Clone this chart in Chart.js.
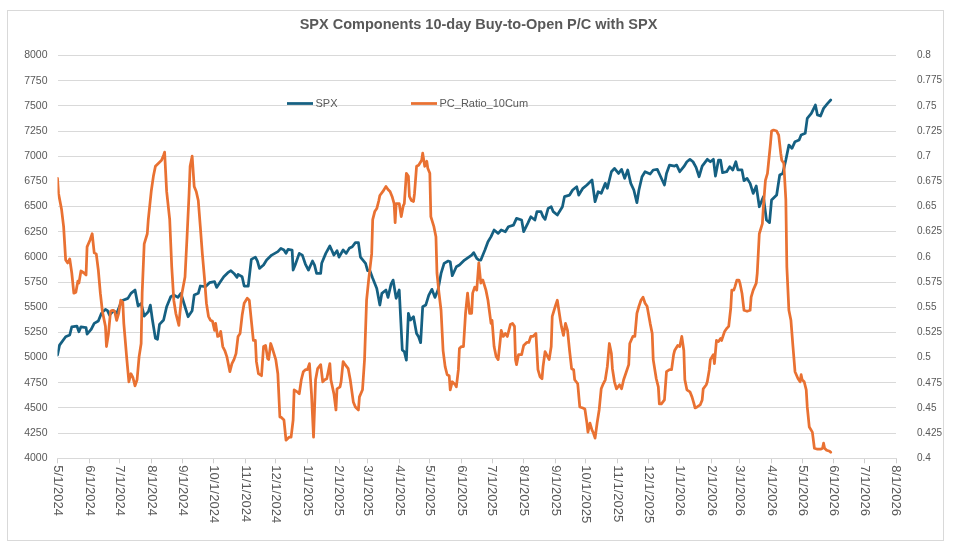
<!DOCTYPE html>
<html>
<head>
<meta charset="utf-8">
<script src="https://cdn.jsdelivr.net/npm/chart.js@4.4.1/dist/chart.umd.min.js"></script>
<style>
html,body{margin:0;padding:0;background:#ffffff;}
#wrap{width:957px;height:550px;position:relative;}
</style>
</head>
<body>
<div id="wrap"><canvas id="c" width="957" height="550"></canvas></div>
<script>
const titleText = 'SPX Components 10-day Buy-to-Open P/C with SPX';
const seriesNames = ['SPX', 'PC_Ratio_10Cum'];
const xTickLabels = ['5/1/2024','6/1/2024','7/1/2024','8/1/2024','9/1/2024','10/1/2024','11/1/2024','12/1/2024',
  '1/1/2025','2/1/2025','3/1/2025','4/1/2025','5/1/2025','6/1/2025','7/1/2025','8/1/2025','9/1/2025','10/1/2025',
  '11/1/2025','12/1/2025','1/1/2026','2/1/2026','3/1/2026','4/1/2026','5/1/2026','6/1/2026','7/1/2026','8/1/2026'];
const leftTicks = [4000,4250,4500,4750,5000,5250,5500,5750,6000,6250,6500,6750,7000,7250,7500,7750,8000];
const rightTicks = ['0.4','0.425','0.45','0.475','0.5','0.525','0.55','0.575','0.6','0.625','0.65','0.675','0.7','0.725','0.75','0.775','0.8'];

const spxDates = ['2024-05-01','2024-05-03','2024-05-09','2024-05-13','2024-05-15','2024-05-20','2024-05-22','2024-05-24','2024-05-29','2024-05-30',
'2024-06-03','2024-06-06','2024-06-10','2024-06-13','2024-06-17','2024-06-19','2024-06-21','2024-06-25','2024-06-28',
'2024-07-03','2024-07-09','2024-07-12','2024-07-16','2024-07-19','2024-07-22','2024-07-25','2024-07-29','2024-07-31',
'2024-08-02','2024-08-05','2024-08-07','2024-08-09','2024-08-13','2024-08-16','2024-08-20','2024-08-23','2024-08-27','2024-08-30',
'2024-09-03','2024-09-06','2024-09-10','2024-09-12','2024-09-16','2024-09-18','2024-09-23','2024-09-27',
'2024-10-02','2024-10-04','2024-10-07','2024-10-11','2024-10-15','2024-10-18','2024-10-21','2024-10-24','2024-10-25','2024-10-29','2024-10-31',
'2024-11-04','2024-11-07','2024-11-11','2024-11-13','2024-11-15','2024-11-19','2024-11-22','2024-11-27',
'2024-12-03','2024-12-06','2024-12-09','2024-12-11','2024-12-13','2024-12-17','2024-12-18','2024-12-20','2024-12-24','2024-12-27','2024-12-30',
'2025-01-02','2025-01-06','2025-01-08','2025-01-10','2025-01-14','2025-01-15','2025-01-19','2025-01-23','2025-01-27','2025-01-30',
'2025-02-01','2025-02-05','2025-02-08','2025-02-11','2025-02-14','2025-02-17','2025-02-20','2025-02-22','2025-02-27',
'2025-03-01','2025-03-03','2025-03-06','2025-03-10','2025-03-13','2025-03-15','2025-03-19','2025-03-21','2025-03-24','2025-03-26','2025-03-29',
'2025-04-01','2025-04-04','2025-04-06','2025-04-08','2025-04-10','2025-04-12','2025-04-15','2025-04-18','2025-04-20','2025-04-22','2025-04-24','2025-04-27','2025-04-30',
'2025-05-03','2025-05-06','2025-05-09','2025-05-12','2025-05-15','2025-05-19','2025-05-21','2025-05-23','2025-05-27','2025-05-30',
'2025-06-04','2025-06-11','2025-06-13','2025-06-16','2025-06-18','2025-06-20','2025-06-24','2025-06-27','2025-06-30',
'2025-07-03','2025-07-07','2025-07-10','2025-07-14','2025-07-17','2025-07-22','2025-07-25','2025-07-30',
'2025-08-01','2025-08-05','2025-08-08','2025-08-12','2025-08-14','2025-08-18','2025-08-20','2025-08-22','2025-08-25','2025-08-28','2025-08-30',
'2025-09-03','2025-09-08','2025-09-10','2025-09-15','2025-09-18','2025-09-22','2025-09-24','2025-09-28',
'2025-10-02','2025-10-07','2025-10-10','2025-10-13','2025-10-16','2025-10-20','2025-10-22','2025-10-26','2025-10-29',
'2025-11-02','2025-11-05','2025-11-08','2025-11-11','2025-11-14','2025-11-17','2025-11-20','2025-11-22','2025-11-25','2025-11-28',
'2025-12-03','2025-12-06','2025-12-10','2025-12-13','2025-12-17','2025-12-19','2025-12-22','2025-12-27','2025-12-29',
'2026-01-01','2026-01-05','2026-01-08','2026-01-11','2026-01-14','2026-01-17','2026-01-20','2026-01-23','2026-01-28','2026-01-31',
'2026-02-03','2026-02-05','2026-02-08','2026-02-10','2026-02-12','2026-02-16','2026-02-19','2026-02-22','2026-02-25','2026-02-27',
'2026-03-03','2026-03-05','2026-03-08','2026-03-11','2026-03-14','2026-03-17','2026-03-20','2026-03-24','2026-03-27','2026-03-30',
'2026-04-01','2026-04-06','2026-04-09','2026-04-12','2026-04-15','2026-04-18','2026-04-21','2026-04-24','2026-04-28','2026-04-30',
'2026-05-04','2026-05-06','2026-05-10','2026-05-14','2026-05-16','2026-05-19','2026-05-22','2026-05-26','2026-05-29'];
const spxValues = [5025,5124,5207,5224,5306,5313,5257,5306,5297,5234,
5280,5340,5363,5439,5479,5466,5422,5466,5439,
5565,5588,5638,5671,5512,5538,5412,5455,5522,
5379,5191,5181,5330,5373,5505,5605,5621,5598,5638,
5505,5406,5466,5621,5638,5711,5704,5744,
5754,5697,5744,5803,5843,5863,5836,5797,5826,5803,5711,
5711,5975,5998,5959,5886,5919,5969,6018,
6052,6085,6068,6035,6075,6068,5869,5919,6035,6018,5929,
5869,5959,5919,5836,5836,5936,6035,6108,6018,6062,
5998,6068,6035,6085,6101,6141,6141,5998,5936,
5863,5869,5787,5687,5522,5638,5671,5598,5730,5770,5588,
5671,5075,5058,4975,5439,5373,5406,5240,5207,5148,5505,5522,5621,
5678,5598,5671,5836,5936,5959,5952,5813,5902,5919,
5969,6018,6042,5985,5969,5969,6068,6151,6201,
6267,6234,6267,6250,6300,6316,6383,6366,
6250,6333,6399,6366,6449,6449,6399,6373,6482,6498,6449,
6416,6498,6598,6614,6664,6697,6614,6681,
6714,6763,6548,6647,6631,6730,6681,6846,6879,
6829,6869,6780,6863,6730,6664,6538,6664,6796,6846,
6823,6863,6869,6803,6714,6829,6912,6902,6912,
6846,6896,6945,6969,6945,6889,6796,6902,6969,6945,
6969,6803,6962,6962,6836,6846,6896,6863,6945,6863,
6863,6757,6780,6730,6631,6704,6498,6598,6366,6340,
6565,6614,6813,6829,6962,7111,7078,7144,7161,7210,
7227,7376,7425,7508,7409,7399,7475,7525,7558];

const pcDates = ['2024-05-01','2024-05-02','2024-05-05','2024-05-07','2024-05-09','2024-05-11','2024-05-13','2024-05-15','2024-05-17','2024-05-19','2024-05-21','2024-05-22','2024-05-24','2024-05-27','2024-05-29','2024-05-30',
'2024-06-02','2024-06-04','2024-06-06','2024-06-08','2024-06-10','2024-06-12','2024-06-14','2024-06-17','2024-06-18','2024-06-20','2024-06-22','2024-06-24','2024-06-26','2024-06-28','2024-06-30',
'2024-07-02','2024-07-04','2024-07-05','2024-07-08','2024-07-10','2024-07-12','2024-07-14','2024-07-16','2024-07-18','2024-07-20','2024-07-22','2024-07-23','2024-07-25','2024-07-28','2024-07-29',
'2024-08-01','2024-08-03','2024-08-05','2024-08-08','2024-08-10','2024-08-11','2024-08-13','2024-08-14','2024-08-16','2024-08-19','2024-08-21','2024-08-23','2024-08-25','2024-08-28','2024-08-29','2024-08-31',
'2024-09-03','2024-09-05','2024-09-07','2024-09-08','2024-09-10','2024-09-12','2024-09-14','2024-09-16','2024-09-18','2024-09-20','2024-09-22','2024-09-24','2024-09-26','2024-09-28','2024-09-30',
'2024-10-02','2024-10-03','2024-10-05','2024-10-07','2024-10-08','2024-10-10','2024-10-12','2024-10-14','2024-10-17','2024-10-19','2024-10-21','2024-10-23','2024-10-25','2024-10-27','2024-10-29','2024-10-31',
'2024-11-03','2024-11-05','2024-11-07','2024-11-09','2024-11-11','2024-11-12','2024-11-14','2024-11-17','2024-11-19','2024-11-21','2024-11-23','2024-11-24','2024-11-26','2024-11-28',
'2024-12-01','2024-12-03','2024-12-05','2024-12-06','2024-12-09','2024-12-11','2024-12-14','2024-12-16','2024-12-18','2024-12-19','2024-12-22','2024-12-24','2024-12-26','2024-12-28','2024-12-30',
'2025-01-01','2025-01-03','2025-01-05','2025-01-07','2025-01-09','2025-01-11','2025-01-14','2025-01-16','2025-01-18','2025-01-20','2025-01-23','2025-01-24','2025-01-27','2025-01-29','2025-01-30',
'2025-02-02','2025-02-03','2025-02-05','2025-02-07','2025-02-10','2025-02-12','2025-02-15','2025-02-17','2025-02-20','2025-02-21','2025-02-24','2025-02-26','2025-02-28',
'2025-03-02','2025-03-05','2025-03-06','2025-03-08','2025-03-10','2025-03-12','2025-03-13','2025-03-16','2025-03-19','2025-03-21','2025-03-23','2025-03-25','2025-03-27','2025-03-28','2025-03-29',
'2025-04-01','2025-04-03','2025-04-05','2025-04-06','2025-04-08','2025-04-10','2025-04-11','2025-04-13','2025-04-15','2025-04-16','2025-04-18','2025-04-20','2025-04-23','2025-04-24','2025-04-26','2025-04-28','2025-04-29',
'2025-05-01','2025-05-02','2025-05-05','2025-05-07','2025-05-08','2025-05-10','2025-05-12','2025-05-14','2025-05-16','2025-05-18','2025-05-20','2025-05-21','2025-05-23','2025-05-26','2025-05-27','2025-05-29','2025-05-30',
'2025-06-01','2025-06-03','2025-06-05','2025-06-07','2025-06-09','2025-06-11','2025-06-12','2025-06-14','2025-06-16','2025-06-18','2025-06-20','2025-06-22','2025-06-25','2025-06-27','2025-06-30',
'2025-07-01','2025-07-03','2025-07-05','2025-07-07','2025-07-09','2025-07-10','2025-07-12','2025-07-14','2025-07-16','2025-07-19','2025-07-21','2025-07-23','2025-07-24','2025-07-25','2025-07-27','2025-07-30',
'2025-08-01','2025-08-04','2025-08-06','2025-08-08','2025-08-10','2025-08-13','2025-08-15','2025-08-17','2025-08-19','2025-08-20','2025-08-22','2025-08-23','2025-08-26','2025-08-28','2025-08-29',
'2025-09-01','2025-09-03','2025-09-06','2025-09-07','2025-09-09','2025-09-11','2025-09-13','2025-09-15','2025-09-17','2025-09-19','2025-09-20','2025-09-23','2025-09-25','2025-09-28','2025-09-30',
'2025-10-02','2025-10-03','2025-10-05','2025-10-07','2025-10-08','2025-10-10','2025-10-12','2025-10-14','2025-10-16','2025-10-18','2025-10-20','2025-10-22','2025-10-24','2025-10-26','2025-10-27','2025-10-29','2025-10-31',
'2025-11-03','2025-11-05','2025-11-07','2025-11-09','2025-11-12','2025-11-13','2025-11-16','2025-11-18','2025-11-20','2025-11-22','2025-11-24','2025-11-26','2025-11-28','2025-11-30',
'2025-12-03','2025-12-05','2025-12-06','2025-12-09','2025-12-11','2025-12-12','2025-12-14','2025-12-17','2025-12-19','2025-12-22','2025-12-24','2025-12-26','2025-12-27','2025-12-30',
'2026-01-01','2026-01-03','2026-01-05','2026-01-06','2026-01-08','2026-01-11','2026-01-13','2026-01-15','2026-01-16','2026-01-18','2026-01-21','2026-01-23','2026-01-24','2026-01-27','2026-01-28','2026-01-30','2026-01-31',
'2026-02-03','2026-02-04','2026-02-06','2026-02-08','2026-02-10','2026-02-11','2026-02-14','2026-02-16','2026-02-18','2026-02-20','2026-02-21','2026-02-23','2026-02-24','2026-02-26','2026-02-28',
'2026-03-01','2026-03-03','2026-03-05','2026-03-08','2026-03-11','2026-03-12','2026-03-14','2026-03-17','2026-03-18','2026-03-20','2026-03-23','2026-03-24','2026-03-26','2026-03-28','2026-03-29','2026-03-31',
'2026-04-01','2026-04-03','2026-04-06','2026-04-08','2026-04-10','2026-04-11','2026-04-13','2026-04-15','2026-04-16','2026-04-18','2026-04-20','2026-04-22','2026-04-24','2026-04-27','2026-04-29','2026-04-30',
'2026-05-01','2026-05-03','2026-05-05','2026-05-06','2026-05-08','2026-05-11','2026-05-13','2026-05-16','2026-05-19','2026-05-21','2026-05-22','2026-05-23','2026-05-25','2026-05-28','2026-05-29'];
const pcValues = [0.678,0.663,0.647,0.630,0.597,0.594,0.598,0.584,0.564,0.565,0.576,0.574,0.586,0.584,0.582,0.610,
0.617,0.623,0.604,0.603,0.587,0.564,0.546,0.531,0.511,0.524,0.546,0.547,0.546,0.537,0.544,
0.557,0.555,0.534,0.498,0.476,0.484,0.480,0.472,0.478,0.501,0.514,0.564,0.613,0.623,0.637,
0.666,0.680,0.690,0.693,0.695,0.696,0.701,0.704,0.665,0.637,0.590,0.557,0.544,0.532,0.544,0.564,
0.580,0.620,0.663,0.690,0.700,0.670,0.665,0.656,0.630,0.603,0.580,0.554,0.541,0.537,0.536,
0.527,0.534,0.521,0.522,0.526,0.511,0.507,0.501,0.486,0.494,0.498,0.504,0.521,0.524,0.542,0.554,
0.559,0.557,0.537,0.517,0.517,0.496,0.484,0.482,0.511,0.512,0.499,0.498,0.514,0.508,
0.498,0.484,0.441,0.441,0.438,0.418,0.421,0.421,0.438,0.468,0.466,0.464,0.478,0.486,0.488,
0.488,0.494,0.464,0.421,0.478,0.489,0.493,0.476,0.478,0.479,0.494,0.478,0.464,0.448,0.469,
0.471,0.476,0.496,0.493,0.489,0.478,0.456,0.451,0.448,0.461,0.468,0.498,0.557,
0.577,0.603,0.637,0.645,0.648,0.656,0.661,0.665,0.670,0.667,0.665,0.660,0.653,0.634,0.653,
0.653,0.640,0.651,0.653,0.683,0.680,0.660,0.656,0.655,0.663,0.690,0.691,0.696,0.703,0.690,0.695,0.688,
0.683,0.640,0.630,0.620,0.584,0.564,0.547,0.507,0.491,0.483,0.482,0.468,0.476,0.473,0.471,0.488,0.509,
0.511,0.511,0.544,0.564,0.544,0.544,0.564,0.570,0.567,0.594,0.574,0.577,0.567,0.557,0.534,
0.537,0.511,0.501,0.498,0.517,0.527,0.521,0.524,0.521,0.533,0.534,0.531,0.498,0.493,0.503,0.503,
0.512,0.515,0.515,0.521,0.521,0.524,0.488,0.481,0.479,0.491,0.506,0.504,0.498,0.511,0.541,
0.551,0.557,0.537,0.531,0.522,0.534,0.527,0.507,0.489,0.488,0.478,0.474,0.451,0.450,0.449,
0.435,0.426,0.435,0.428,0.426,0.420,0.435,0.448,0.469,0.474,0.478,0.491,0.514,0.504,0.489,0.476,0.469,
0.473,0.469,0.478,0.484,0.493,0.514,0.521,0.521,0.544,0.551,0.557,0.560,0.554,0.551,
0.534,0.524,0.498,0.479,0.471,0.454,0.454,0.458,0.486,0.488,0.488,0.503,0.507,0.512,
0.511,0.521,0.507,0.478,0.468,0.466,0.461,0.454,0.450,0.451,0.453,0.458,0.469,0.473,0.476,0.488,0.498,
0.503,0.494,0.517,0.516,0.519,0.517,0.526,0.529,0.531,0.549,0.567,0.567,0.570,0.577,0.577,
0.574,0.564,0.547,0.546,0.547,0.560,0.567,0.574,0.584,0.623,0.633,0.650,0.676,0.683,0.693,0.713,
0.725,0.726,0.725,0.721,0.703,0.696,0.693,0.657,0.590,0.547,0.537,0.511,0.486,0.479,0.476,0.483,
0.478,0.476,0.468,0.451,0.431,0.426,0.410,0.409,0.409,0.410,0.415,0.410,0.408,0.407,0.406];

const seriesColors = ['#156082', '#E97132'];

const FAMILY = '"Liberation Sans", Arial, Helvetica, sans-serif';
const TEXT = '#595959';
const GRID = '#d9d9d9';

function isoDay(s) { const p = s.split('-').map(Number); return Date.UTC(p[0], p[1] - 1, p[2]) / 864e5; }
function usDay(s) { const p = s.split('/').map(Number); return Date.UTC(p[2], p[0] - 1, p[1]) / 864e5; }

const spxPoints = spxDates.map((d, i) => ({ x: isoDay(d), y: spxValues[i] }));
const pcPoints = pcDates.map((d, i) => ({ x: isoDay(d), y: pcValues[i] }));

const framePlugin = {
  id: 'frame',
  beforeDraw(chart) {
    const ctx = chart.ctx;
    ctx.save();
    ctx.fillStyle = '#ffffff';
    ctx.fillRect(0, 0, chart.width, chart.height);
    ctx.strokeStyle = '#d9d9d9';
    ctx.lineWidth = 1;
    ctx.strokeRect(7.5, 10.5, 936, 530);
    ctx.restore();
  }
};

const xLabelPlugin = {
  id: 'xLabels',
  afterDraw(chart) {
    const sc = chart.scales.x;
    const ctx = chart.ctx;
    ctx.save();
    ctx.font = '13px ' + FAMILY;
    ctx.fillStyle = TEXT;
    ctx.textAlign = 'left';
    ctx.textBaseline = 'middle';
    sc.ticks.forEach((t, i) => {
      const x = sc.getPixelForValue(t.value);
      ctx.save();
      ctx.translate(x, chart.chartArea.bottom + 7);
      ctx.rotate(Math.PI / 2);
      ctx.fillText(xTickLabels[i], 0, 0);
      ctx.restore();
    });
    ctx.restore();
  }
};

const legendPlugin = {
  id: 'inlineLegend',
  afterDraw(chart) {
    const ctx = chart.ctx;
    const spots = [287, 411];
    ctx.save();
    ctx.font = '11px ' + FAMILY;
    ctx.textBaseline = 'middle';
    ctx.textAlign = 'left';
    chart.data.datasets.forEach((ds, i) => {
      const x = spots[i];
      const y = 103.5;
      ctx.strokeStyle = ds.borderColor;
      ctx.lineWidth = 2.75;
      ctx.lineCap = 'butt';
      ctx.beginPath();
      ctx.moveTo(x, y);
      ctx.lineTo(x + 26, y);
      ctx.stroke();
      ctx.fillStyle = TEXT;
      ctx.fillText(ds.label, x + 28.5, y + 0.5);
    });
    ctx.restore();
  }
};

new Chart(document.getElementById('c'), {
  type: 'line',
  data: {
    datasets: [
      { label: seriesNames[0], data: spxPoints, yAxisID: 'y', borderColor: seriesColors[0], backgroundColor: seriesColors[0],
        borderWidth: 2.75, pointRadius: 0, pointHoverRadius: 0, tension: 0, borderJoinStyle: 'round', borderCapStyle: 'round', order: 2 },
      { label: seriesNames[1], data: pcPoints, yAxisID: 'y1', borderColor: seriesColors[1], backgroundColor: seriesColors[1],
        borderWidth: 2.75, pointRadius: 0, pointHoverRadius: 0, tension: 0, borderJoinStyle: 'round', borderCapStyle: 'round', order: 1 }
    ]
  },
  options: {
    responsive: false,
    animation: false,
    events: [],
    layout: { padding: 0 },
    plugins: {
      legend: { display: false },
      tooltip: { enabled: false },
      title: {
        display: true, text: titleText, color: TEXT,
        font: { family: FAMILY, size: 14.5, weight: 'bold', lineHeight: 1.2 },
        padding: { top: 16.3, bottom: 21.8 }
      }
    },
    scales: {
      x: {
        type: 'linear',
        min: usDay(xTickLabels[0]),
        max: usDay(xTickLabels[xTickLabels.length - 1]),
        afterBuildTicks: s => { s.ticks = xTickLabels.map(l => ({ value: usDay(l) })); },
        afterFit: s => { s.height = 91.7; },
        ticks: { display: false },
        grid: { drawOnChartArea: false, drawTicks: true, tickLength: 5, color: '#cfcfcf' },
        border: { display: true, color: GRID }
      },
      y: {
        position: 'left',
        min: leftTicks[0],
        max: leftTicks[leftTicks.length - 1],
        afterBuildTicks: s => { s.ticks = leftTicks.map(v => ({ value: v })); },
        afterFit: s => { s.width = 57.5; },
        ticks: { color: TEXT, font: { family: FAMILY, size: 10.5 }, padding: 10, callback: v => String(v) },
        grid: { color: GRID, drawTicks: false, lineWidth: 1 },
        border: { display: false }
      },
      y1: {
        position: 'right',
        min: parseFloat(rightTicks[0]),
        max: parseFloat(rightTicks[rightTicks.length - 1]),
        afterBuildTicks: s => { s.ticks = rightTicks.map(v => ({ value: parseFloat(v) })); },
        afterFit: s => { s.width = 61; },
        ticks: { color: TEXT, font: { family: FAMILY, size: 10 }, padding: 21, callback: (v, i) => rightTicks[i] },
        grid: { drawOnChartArea: false, drawTicks: false },
        border: { display: false }
      }
    }
  },
  plugins: [framePlugin, xLabelPlugin, legendPlugin]
});
</script>
</body>
</html>
